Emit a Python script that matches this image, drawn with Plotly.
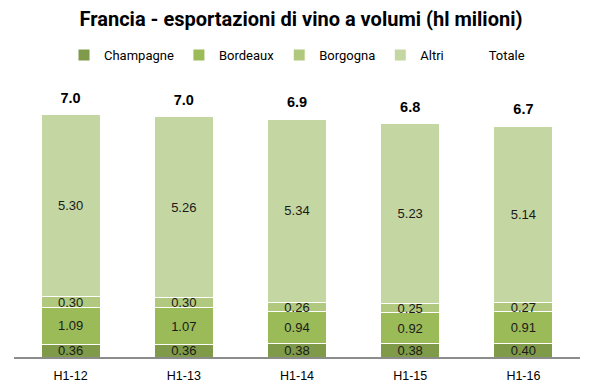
import plotly.graph_objects as go

categories = ["H1-12", "H1-13", "H1-14", "H1-15", "H1-16"]
champagne = [0.36, 0.36, 0.38, 0.38, 0.40]
bordeaux = [1.09, 1.07, 0.94, 0.92, 0.91]
borgogna = [0.30, 0.30, 0.26, 0.25, 0.27]
altri = [5.30, 5.26, 5.34, 5.23, 5.14]
totale = [7.0, 7.0, 6.9, 6.8, 6.7]

series = [
    ("Champagne", champagne, "#7f9a48"),
    ("Bordeaux", bordeaux, "#9bbb59"),
    ("Borgogna", borgogna, "#b1c97f"),
    ("Altri", altri, "#c4d6a2"),
]

fig = go.Figure()
for name, vals, col in series:
    fig.add_trace(go.Bar(
        x=categories, y=vals, name=name,
        marker=dict(color=col, line=dict(color="white", width=1)),
        text=[f"{v:.2f}" for v in vals],
        textposition="inside", insidetextanchor="middle",
        constraintext="none",
        textfont=dict(family="Liberation Sans, Arial", size=13, color="#1a1a1a"),
        hoverinfo="skip",
    ))

stack_tops = [a + b + c + d for a, b, c, d in zip(champagne, bordeaux, borgogna, altri)]
fig.add_trace(go.Scatter(
    x=categories, y=[t + 0.06 for t in stack_tops], name="Totale",
    mode="markers+text",
    marker=dict(color="rgba(0,0,0,0)", size=8),
    text=[f"<b>{v:.1f}</b>" for v in totale],
    textposition="top center",
    textfont=dict(family="Liberation Sans, Arial", size=14.5, color="#000000"),
    cliponaxis=False,
    hoverinfo="skip",
))

# page body has an 8px margin, so the figure is made 8px smaller and margins shifted
fig.update_layout(
    width=586, height=384,
    barmode="stack", bargap=0.48,
    plot_bgcolor="white", paper_bgcolor="white",
    margin=dict(l=6, r=14, t=74, b=35, autoexpand=False),
    title=dict(
        text="<b>Francia - esportazioni di vino a volumi (hl milioni)</b>",
        x=0.5, xanchor="center", y=0.971, yanchor="middle",
        font=dict(family="Roboto", size=20, color="#000000"),
    ),
    legend=dict(
        orientation="h", x=0.5, xanchor="center", y=1.098, yanchor="middle",
        font=dict(family="Roboto", size=13, color="#000000"),
        itemwidth=30, traceorder="normal",
    ),
    showlegend=True,
)
fig.update_xaxes(
    showline=True, linecolor="#8c8c8c", linewidth=1.5,
    ticks="", tickfont=dict(family="Liberation Sans, Arial", size=12.5, color="#000000"),
    ticklabelstandoff=6,
)
fig.update_yaxes(range=[0, 8], visible=False, showgrid=False)

fig.write_html("out.html")
